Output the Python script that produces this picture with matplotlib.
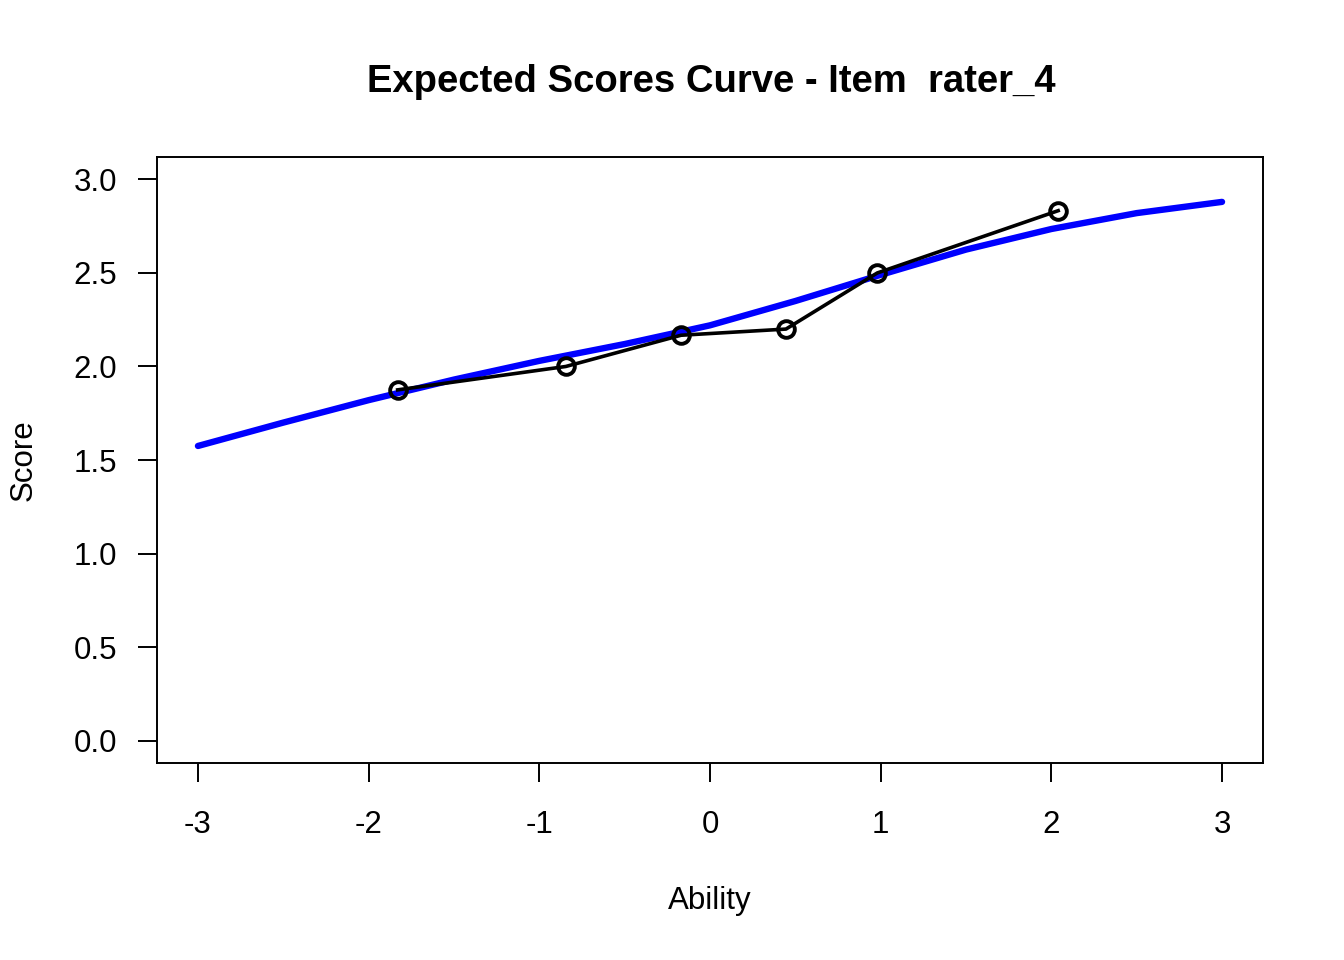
import matplotlib
matplotlib.use("Agg")
import matplotlib.pyplot as plt

plt.rcParams['font.family'] = ['Liberation Sans', 'DejaVu Sans']

# Model expected score curve
ability_curve = [-3.0, -2.5, -2.0, -1.5, -1.0, -0.5, 0.0, 0.5, 1.0, 1.5, 2.0, 2.5, 3.0]
score_curve = [1.575, 1.70, 1.82, 1.93, 2.03, 2.12, 2.22, 2.35, 2.49, 2.625, 2.735, 2.82, 2.88]

# Observed mean scores by ability group
ability_obs = [-1.83, -0.845, -0.17, 0.445, 0.98, 2.04]
score_obs = [1.875, 2.0, 2.167, 2.2, 2.5, 2.833]

x_ticks = [-3, -2, -1, 0, 1, 2, 3]
y_ticks = [0.0, 0.5, 1.0, 1.5, 2.0, 2.5, 3.0]

title = "Expected Scores Curve - Item  rater_4"

W, H = 1344, 960
fig = plt.figure(figsize=(W / 100, H / 100), dpi=100)
ax = fig.add_axes([157 / W, 1 - 763 / H, (1263 - 157) / W, (763 - 157) / H])

ax.plot(ability_curve, score_curve, color='#0000FF', lw=4.6, solid_capstyle='round',
        solid_joinstyle='round', zorder=2)
ax.plot(ability_obs, score_obs, color='black', lw=2.6, marker='o', markersize=12,
        markerfacecolor='none', markeredgecolor='black', markeredgewidth=2.8, zorder=3)

ax.set_xlim(-3.24, 3.24)
ax.set_ylim(-0.12, 3.12)
ax.set_xticks(x_ticks)
ax.set_xticklabels([str(t) for t in x_ticks])
ax.set_yticks(y_ticks)
ax.set_yticklabels([f"{t:.1f}" for t in y_ticks])

for s in ax.spines.values():
    s.set_linewidth(1.4)
    s.set_color('black')
ax.tick_params(axis='both', direction='out', length=14, width=1.4, labelsize=22.5, colors='black')
ax.tick_params(axis='x', pad=20)
ax.tick_params(axis='y', pad=14.5)

fig.text(711 / W, 1 - 82 / H, title, ha='center', va='center', fontsize=27.5, fontweight='bold')
fig.text(710 / W, 1 - 901 / H, "Ability", ha='center', va='center', fontsize=22.5)
fig.text(24 / W, 1 - 460 / H, "Score", ha='center', va='center', fontsize=22.5, rotation=90)

fig.savefig("out.png", dpi=100)
